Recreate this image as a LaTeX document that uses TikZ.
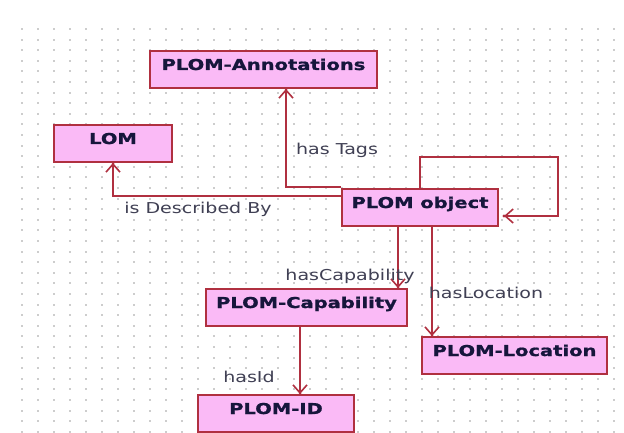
\documentclass[tikz,border=0pt]{standalone}
\usepackage{fontspec}
\usetikzlibrary{arrows.meta}
\newfontfamily\boxfont[FakeStretch=1.3,FakeBold=1.2]{DejaVu Sans Bold}
\newfontfamily\labfont[FakeStretch=1.27]{DejaVu Sans}
\definecolor{boxfill}{RGB}{250,186,246}
\definecolor{boxline}{RGB}{176,48,64}
\definecolor{boxtext}{RGB}{22,22,60}
\definecolor{labtext}{RGB}{64,64,84}
\definecolor{dotc}{RGB}{205,205,205}
\tikzset{
  cls/.style={draw=boxline, fill=boxfill, line width=1.8pt, minimum height=37pt,
    inner sep=0pt, text height=11pt, text depth=10pt, text=boxtext,
    font=\boxfont\fontsize{15pt}{15pt}\selectfont},
  rel/.style={draw=boxline, line width=1.8pt,
    -{Straight Barb[length=8pt,width=14pt,line width=1.6pt]}},
  lab/.style={text=labtext, inner sep=0pt,
    font=\labfont\fontsize{15pt}{15pt}\selectfont},
}
\begin{document}
\begin{tikzpicture}[x=1pt,y=-1pt]
\useasboundingbox (0,0) rectangle (624,433);
\fill[white] (0,0) rectangle (624,433);
\foreach \i in {0,...,37}{
  \foreach \j in {0,...,38}{
    \fill[dotc] ({22+16*\i-1},{29+10.6*\j-1}) rectangle ++(2,2);
  }
}
\node[cls, minimum width=227pt] (ann) at (263.5,69.5) {PLOM-Annotations};
\node[cls, minimum width=118pt] (lom) at (113,143.5) {LOM};
\node[cls, minimum width=156pt] (obj) at (420,207.5) {PLOM object};
\node[cls, minimum width=201pt] (cap) at (306.5,307.5) {PLOM-Capability};
\node[cls, minimum width=185pt] (loc) at (514.5,355.5) {PLOM-Location};
\node[cls, minimum width=156pt] (pid) at (276,413.5) {PLOM-ID};

\coordinate (annin) at ([xshift=22.5pt]ann.south);
\coordinate (objtl) at ([yshift=1pt]obj.north west);
\coordinate (objl) at ([yshift=11.5pt]obj.west);
\coordinate (loopa) at (obj.north);
\coordinate (loopc1) at (420,157);
\coordinate (loopc2) at (558,157);
\coordinate (loopc3) at (558,216);
\coordinate (loopend) at (504,216);
\coordinate (capin) at ([xshift=91.5pt]cap.north);
\coordinate (capfrom) at (obj.south -| capin);
\coordinate (locfrom) at ([xshift=12pt]obj.south);
\coordinate (locin) at (loc.north -| locfrom);
\coordinate (capout) at ([xshift=-6.5pt]cap.south);
\coordinate (pidin) at (pid.north -| capout);

\draw[rel] (objtl) -| (annin);
\draw[rel] (objl) -| (lom.south);
\draw[rel] (loopa) -- (loopc1) -- (loopc2) -- (loopc3) -- (loopend);
\draw[rel] (capfrom) -- (capin);
\draw[rel] (locfrom) -- (locin);
\draw[rel] (capout) -- (pidin);
\foreach \p in {annin,lom.south,loopend,capin,locin,pidin}{
  \fill[boxline] (\p) circle (1.6pt);
}

\node[lab] (l1) at (337,150) {has Tags};
\node[lab] (l2) at (198,209) {is Described By};
\node[lab] (l3) at (350,276) {hasCapability};
\node[lab] (l4) at (486,293) {hasLocation};
\node[lab] (l5) at (249,377) {hasId};
\end{tikzpicture}
\end{document}
